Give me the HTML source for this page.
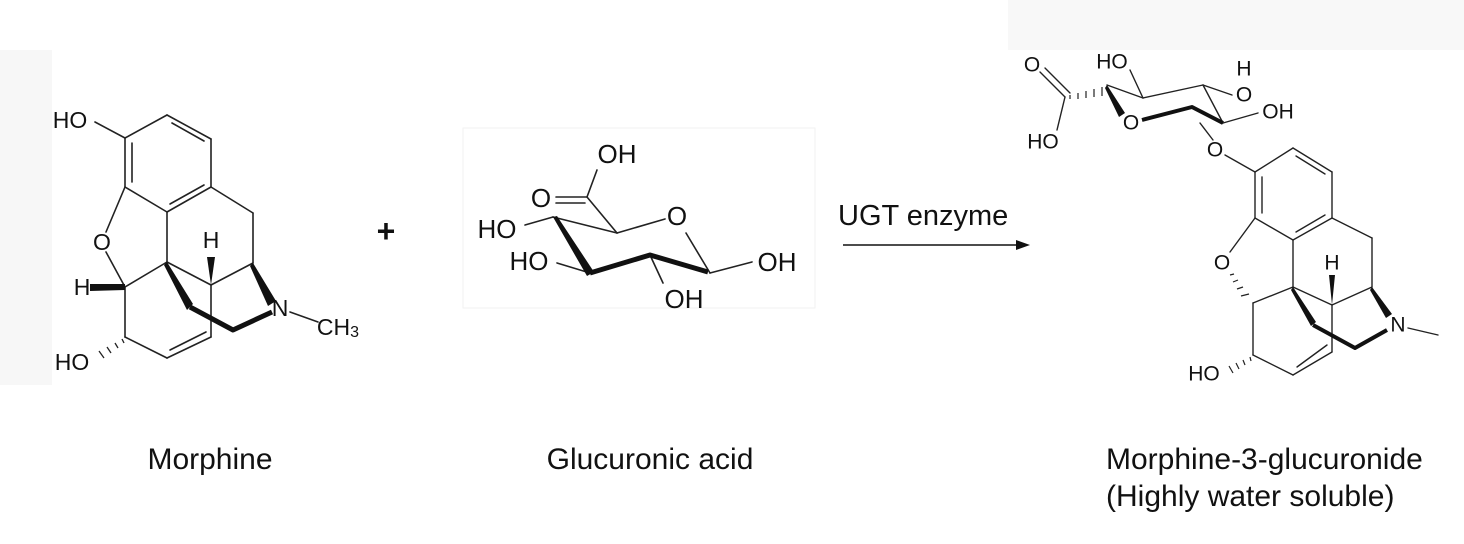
<!DOCTYPE html>
<html><head><meta charset="utf-8"><style>
html,body{margin:0;padding:0;background:#fff;}
svg{display:block;}
text{font-family:"Liberation Sans",sans-serif;fill:#111;}
</style></head><body>
<svg width="1464" height="544" viewBox="0 0 1464 544" xmlns="http://www.w3.org/2000/svg">
<rect x="0" y="50" width="52" height="335" fill="#f7f7f7"/>
<rect x="1008" y="0" width="456" height="50" fill="#f8f8f8"/>
<rect x="463" y="128" width="352" height="180" fill="#fff" stroke="#f2f2f2" stroke-width="1"/>

<!-- Morphine -->
<g stroke="#222" stroke-width="1.6" fill="none" stroke-linecap="round">
<line x1="95" y1="122" x2="125" y2="138"/>
<line x1="125" y1="138" x2="167" y2="115"/>
<line x1="167" y1="115" x2="211" y2="139"/>
<line x1="172" y1="123" x2="204" y2="141"/>
<line x1="211" y1="139" x2="211" y2="187"/>
<line x1="211" y1="187" x2="167" y2="212"/>
<line x1="204" y1="185" x2="170" y2="204"/>
<line x1="167" y1="212" x2="125" y2="187"/>
<line x1="125" y1="187" x2="125" y2="138"/>
<line x1="132" y1="182" x2="132" y2="143"/>
<line x1="125" y1="187" x2="106" y2="232"/>
<line x1="106" y1="252" x2="125" y2="287"/>
<line x1="167" y1="212" x2="167" y2="262"/>
<line x1="167" y1="262" x2="125" y2="287"/>
<line x1="211" y1="187" x2="253" y2="213"/>
<line x1="253" y1="213" x2="253" y2="263"/>
<line x1="253" y1="263" x2="211" y2="285"/>
<line x1="167" y1="262" x2="211" y2="285"/>
<line x1="211" y1="285" x2="211" y2="337"/>
<line x1="125" y1="287" x2="125" y2="337"/>
<line x1="125" y1="337" x2="167" y2="358"/>
<line x1="167" y1="358" x2="211" y2="337"/>
<line x1="170" y1="350" x2="206" y2="332"/>
<line x1="290" y1="312" x2="318" y2="322"/>
</g>
<g fill="#111">
<polygon points="125,284 125,290 90,291 90,284"/>
<polygon points="211,285 207,257 215,257"/>
<polygon points="253,263 276,301 268,306 250,266"/>
<polygon points="167,262 193,304 187,310 164,265"/>
</g>
<g stroke="#111" stroke-width="5" fill="none" stroke-linejoin="round"><polyline points="190,307 233,330 272,312"/></g>
<g stroke="#222" stroke-width="1.3"><line x1="122" y1="339" x2="124" y2="343"/><line x1="115" y1="343" x2="118" y2="348"/><line x1="107" y1="347" x2="111" y2="353"/><line x1="99" y1="351" x2="104" y2="358"/></g>
<g font-size="23" text-anchor="middle" dominant-baseline="central">
<text x="70" y="120">HO</text>
<text x="102" y="242">O</text>
<text x="82" y="287">H</text>
<text x="211" y="240">H</text>
<text x="280" y="308">N</text>
<text x="338" y="327">CH<tspan font-size="16" dy="5">3</tspan></text>
<text x="72" y="362">HO</text>
</g>

<text x="386" y="242" font-size="32" font-weight="bold" text-anchor="middle">+</text>

<!-- Glucuronic acid -->
<g stroke="#222" stroke-width="1.6" fill="none" stroke-linecap="round">
<line x1="597" y1="170" x2="587" y2="197"/>
<line x1="587" y1="197" x2="556" y2="197"/>
<line x1="585" y1="203" x2="556" y2="203"/>
<line x1="587" y1="197" x2="617" y2="233"/>
<line x1="617" y1="233" x2="665" y2="219"/>
<line x1="686" y1="233" x2="710" y2="273"/>
<line x1="710" y1="273" x2="752" y2="262"/>
<line x1="553" y1="217" x2="617" y2="233"/>
<line x1="553" y1="217" x2="525" y2="225"/>
<line x1="590" y1="273" x2="557" y2="263"/>
<line x1="650" y1="255" x2="663" y2="283"/>
</g>
<polygon points="553,217 557,216 594,272 587,276" fill="#111"/>
<g stroke="#111" stroke-width="5" fill="none" stroke-linejoin="round"><polyline points="590,273 650,255 708,272"/></g>
<g font-size="26" text-anchor="middle" dominant-baseline="central">
<text x="617" y="154">OH</text>
<text x="541" y="198">O</text>
<text x="677" y="216">O</text>
<text x="497" y="229">HO</text>
<text x="529" y="261">HO</text>
<text x="777" y="262">OH</text>
<text x="684" y="299">OH</text>
</g>

<!-- Arrow -->
<text x="838" y="225" font-size="29">UGT enzyme</text>
<line x1="843" y1="245" x2="1018" y2="245" stroke="#111" stroke-width="1.5"/>
<polygon points="1030,245 1016,240 1016,250" fill="#111"/>

<!-- M3G morphine part -->
<g stroke="#222" stroke-width="1.4" fill="none" stroke-linecap="round">
<line x1="1225" y1="155" x2="1255" y2="172"/>
<line x1="1255" y1="172" x2="1293" y2="148"/>
<line x1="1293" y1="148" x2="1332" y2="172"/>
<line x1="1296" y1="156" x2="1325" y2="174"/>
<line x1="1332" y1="172" x2="1332" y2="218"/>
<line x1="1332" y1="218" x2="1293" y2="240"/>
<line x1="1325" y1="215" x2="1296" y2="232"/>
<line x1="1293" y1="240" x2="1255" y2="218"/>
<line x1="1255" y1="218" x2="1255" y2="172"/>
<line x1="1262" y1="213" x2="1262" y2="177"/>
<line x1="1255" y1="218" x2="1230" y2="252"/>
<line x1="1293" y1="240" x2="1293" y2="287"/>
<line x1="1293" y1="287" x2="1253" y2="303"/>
<line x1="1332" y1="218" x2="1372" y2="238"/>
<line x1="1372" y1="238" x2="1372" y2="287"/>
<line x1="1372" y1="287" x2="1332" y2="305"/>
<line x1="1293" y1="287" x2="1332" y2="305"/>
<line x1="1332" y1="305" x2="1332" y2="352"/>
<line x1="1253" y1="303" x2="1253" y2="355"/>
<line x1="1253" y1="355" x2="1293" y2="375"/>
<line x1="1293" y1="375" x2="1332" y2="352"/>
<line x1="1297" y1="367" x2="1327" y2="345"/>
<line x1="1408" y1="328" x2="1438" y2="335"/>
</g>
<g stroke="#222" stroke-width="1.2"><line x1="1230" y1="275" x2="1234" y2="274"/><line x1="1233" y1="282" x2="1238" y2="280"/><line x1="1237" y1="289" x2="1243" y2="287"/><line x1="1241" y1="296" x2="1249" y2="294"/>
<line x1="1250" y1="357" x2="1251" y2="361"/><line x1="1243" y1="360" x2="1245" y2="365"/><line x1="1236" y1="363" x2="1239" y2="369"/><line x1="1229" y1="366" x2="1233" y2="373"/></g>
<g fill="#111">
<polygon points="1332,305 1329,275 1335,275"/>
<polygon points="1372,287 1392,314 1386,318 1370,290"/>
<polygon points="1293,287 1316,322 1311,326 1291,290"/>
</g>
<g stroke="#111" stroke-width="4" fill="none" stroke-linejoin="round"><polyline points="1313,325 1355,348 1387,330"/></g>

<!-- M3G sugar -->
<g stroke="#222" stroke-width="1.4" fill="none" stroke-linecap="round">
<line x1="1213" y1="140" x2="1200" y2="123"/>
<line x1="1107" y1="85" x2="1143" y2="98"/>
<line x1="1143" y1="98" x2="1203" y2="85"/>
<line x1="1203" y1="85" x2="1223" y2="123"/>
<line x1="1203" y1="85" x2="1232" y2="95"/>
<line x1="1223" y1="123" x2="1258" y2="113"/>
<line x1="1143" y1="98" x2="1130" y2="70"/>
<line x1="1065" y1="97" x2="1040" y2="72"/>
<line x1="1070" y1="93" x2="1045" y2="68"/>
<line x1="1065" y1="97" x2="1057" y2="130"/>
</g>
<polygon points="1107,85 1125,113 1119,117 1105,88" fill="#111"/>
<g stroke="#111" stroke-width="4" fill="none" stroke-linejoin="round"><polyline points="1142,120 1192,107 1223,123"/></g>
<g stroke="#222" stroke-width="1.2"><line x1="1070" y1="95" x2="1070" y2="99"/><line x1="1078" y1="93" x2="1078" y2="99"/><line x1="1086" y1="91" x2="1086" y2="98"/><line x1="1094" y1="89" x2="1094" y2="97"/><line x1="1102" y1="87" x2="1102" y2="96"/></g>
<g font-size="21" text-anchor="middle" dominant-baseline="central">
<text x="1032" y="65">O</text>
<text x="1043" y="142">HO</text>
<text x="1112" y="62">HO</text>
<text x="1131" y="123">O</text>
<text x="1244" y="69">H</text>
<text x="1244" y="95">O</text>
<text x="1278" y="112">OH</text>
<text x="1215" y="150">O</text>
<text x="1222" y="263">O</text>
<text x="1332" y="263">H</text>
<text x="1398" y="325">N</text>
<text x="1204" y="374">HO</text>
</g>

<!-- captions -->
<g font-size="30">
<text x="210" y="469" text-anchor="middle">Morphine</text>
<text x="650" y="469" text-anchor="middle">Glucuronic acid</text>
<text x="1106" y="469">Morphine-3-glucuronide</text>
<text x="1106" y="506">(Highly water soluble)</text>
</g>
</svg>
</body></html>
